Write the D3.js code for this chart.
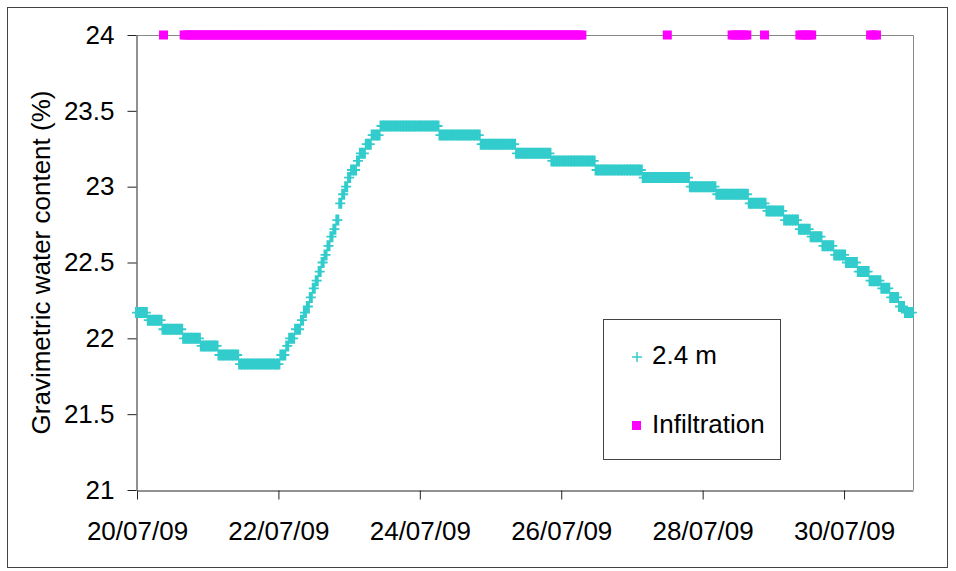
<!DOCTYPE html>
<html>
<head>
<meta charset="utf-8">
<script src="https://cdn.jsdelivr.net/npm/d3@7"></script>
<style>
  body { margin: 0; background: #fff; }
  #container { width: 956px; height: 571px; }
  text { font-family: 'Liberation Sans', Arial, sans-serif; fill: #000; }
</style>
</head>
<body>
<div id="container"></div>
<script>

var width = 956;
var height = 571;

// hourly readings, first one at 20/07/09 00:00
var startTime = new Date(2009, 6, 20, 0, 0);
var endTime = new Date(2009, 6, 20, 263, 24);

// gravimetric water content at 2.4 m, one row per day (24 hourly values)
var water24 = [
  22.17,22.17,22.17,22.17,22.12,22.12,22.12,22.12,22.12,22.06,22.06,22.06,22.06,22.06,22.06,22.06,22.00,22.00,22.00,22.00,22.00,22.00,21.95,21.95,
  21.95,21.95,21.95,21.95,21.89,21.89,21.89,21.89,21.89,21.89,21.89,21.83,21.83,21.83,21.83,21.83,21.83,21.83,21.83,21.83,21.83,21.83,21.83,21.83,
  21.83,21.89,21.89,21.95,22.00,22.00,22.06,22.06,22.12,22.17,22.21,22.27,22.33,22.38,22.44,22.50,22.55,22.61,22.67,22.72,22.78,22.89,22.95,23.00,
  23.06,23.11,23.11,23.17,23.22,23.22,23.28,23.28,23.34,23.34,23.34,23.40,23.40,23.40,23.40,23.40,23.40,23.40,23.40,23.40,23.40,23.40,23.40,23.40,
  23.40,23.40,23.40,23.40,23.40,23.40,23.40,23.34,23.34,23.34,23.34,23.34,23.34,23.34,23.34,23.34,23.34,23.34,23.34,23.34,23.34,23.28,23.28,23.28,
  23.28,23.28,23.28,23.28,23.28,23.28,23.28,23.28,23.28,23.22,23.22,23.22,23.22,23.22,23.22,23.22,23.22,23.22,23.22,23.22,23.22,23.17,23.17,23.17,
  23.17,23.17,23.17,23.17,23.17,23.17,23.17,23.17,23.17,23.17,23.17,23.17,23.11,23.11,23.11,23.11,23.11,23.11,23.11,23.11,23.11,23.11,23.11,23.11,
  23.11,23.11,23.11,23.11,23.06,23.06,23.06,23.06,23.06,23.06,23.06,23.06,23.06,23.06,23.06,23.06,23.06,23.06,23.06,23.06,23.00,23.00,23.00,23.00,
  23.00,23.00,23.00,23.00,23.00,22.95,22.95,22.95,22.95,22.95,22.95,22.95,22.95,22.95,22.95,22.95,22.89,22.89,22.89,22.89,22.89,22.89,22.84,22.84,
  22.84,22.84,22.84,22.84,22.78,22.78,22.78,22.78,22.78,22.72,22.72,22.72,22.72,22.67,22.67,22.67,22.67,22.61,22.61,22.61,22.61,22.55,22.55,22.55,
  22.55,22.50,22.50,22.50,22.50,22.44,22.44,22.44,22.44,22.38,22.38,22.38,22.38,22.33,22.33,22.33,22.27,22.27,22.27,22.21,22.21,22.17,22.17,22.17
];

// hours (from 20/07/09 00:00) with infiltration, plotted at the top of the axis
var infiltrationHours = [
  9,
  16,17,18,19,20,21,22,23,24,25,26,27,28,29,30,31,32,33,34,35,
  36,37,38,39,40,41,42,43,44,45,46,47,48,49,50,51,52,53,54,55,
  56,57,58,59,60,61,62,63,64,65,66,67,68,69,70,71,72,73,74,75,
  76,77,78,79,80,81,82,83,84,85,86,87,88,89,90,91,92,93,94,95,
  96,97,98,99,100,101,102,103,104,105,106,107,108,109,110,111,112,113,114,115,
  116,117,118,119,120,121,122,123,124,125,126,127,128,129,130,131,132,133,134,135,
  136,137,138,139,140,141,142,143,144,145,146,147,148,149,150,151,
  180,
  202,203,204,205,206,207,
  213,
  225,226,227,228,229,
  249,250,251
];
var infiltrationLevel = 24;

var yTicks = [21, 21.5, 22, 22.5, 23, 23.5, 24];
var xTicks = [new Date(2009,6,20), new Date(2009,6,22), new Date(2009,6,24), new Date(2009,6,26), new Date(2009,6,28), new Date(2009,6,30)];

var seriesNames = ['2.4 m', 'Infiltration'];
var cyan = '#33CCCC';
var magenta = '#FF00FF';

var plot = {left: 137, top: 35, right: 913, bottom: 490};

function hourToDate(h){
  return new Date(startTime.getTime() + h * 3600000);
}

var canvas = d3.select('#container')
  .append('svg')
  .attr('width', width)
  .attr('height', height);

// chart area border
canvas.append('rect')
  .attr('x', 7.5)
  .attr('y', 7.5)
  .attr('width', 940)
  .attr('height', 560)
  .style('fill', 'none')
  .style('stroke', '#444');

var x = d3.scaleTime()
  .domain([startTime, endTime])
  .range([plot.left, plot.right]);

var y = d3.scaleLinear()
  .domain([21, 24])
  .range([plot.bottom, plot.top]);

// plot area border (top / right)
canvas.append('path')
  .attr('d', 'M' + plot.left + ',' + (plot.top + 0.5) + 'H' + (plot.right + 0.5) + 'V' + plot.bottom)
  .style('fill', 'none')
  .style('stroke', '#888');

var yAxis = canvas.append('g')
  .attr('transform', 'translate(' + (plot.left - 0.5) + ',0)')
  .call(d3.axisLeft(y)
    .tickValues(yTicks)
    .tickFormat(function(d){ return String(d); })
    .tickSize(9)
    .tickSizeOuter(0)
    .tickPadding(13));

var xAxis = canvas.append('g')
  .attr('transform', 'translate(0,' + (plot.bottom + 0.5) + ')')
  .call(d3.axisBottom(x)
    .tickValues(xTicks)
    .tickFormat(d3.timeFormat('%d/%m/%y'))
    .tickSize(9)
    .tickSizeOuter(0)
    .tickPadding(22));

canvas.selectAll('.domain, .tick line')
  .style('stroke', '#222');

canvas.selectAll('.tick text')
  .style('font-size', '26px')
  .style('font-family', "'Liberation Sans', Arial, sans-serif")
  .style('fill', '#000');

canvas.append('text')
  .attr('transform', 'translate(50,' + ((plot.top + plot.bottom) / 2) + ') rotate(-90)')
  .attr('text-anchor', 'middle')
  .style('font-size', '26px')
  .text('Gravimetric water content (%)');

// 2.4 m series, plus markers (thick upright, thin cross bar)
var plusPath = 'M-2,-5.5h4v11h-4z M-5,-0.9h10v1.8h-10z';

canvas.selectAll('.water')
  .data(water24)
  .enter()
  .append('path')
  .attr('class', 'water')
  .attr('transform', function(d, i){ return 'translate(' + x(hourToDate(i)) + ',' + y(d) + ')'; })
  .attr('d', plusPath)
  .style('fill', cyan);

// infiltration series, square markers
canvas.selectAll('.infil')
  .data(infiltrationHours)
  .enter()
  .append('rect')
  .attr('class', 'infil')
  .attr('x', function(d){ return x(hourToDate(d)) - 4.5; })
  .attr('y', y(infiltrationLevel) - 4.5)
  .attr('width', 9)
  .attr('height', 9)
  .style('fill', magenta);

// legend
var legend = canvas.append('g');

legend.append('rect')
  .attr('x', 603.5)
  .attr('y', 319.5)
  .attr('width', 177)
  .attr('height', 140)
  .style('fill', '#fff')
  .style('stroke', '#444');

legend.append('path')
  .attr('transform', 'translate(637,357)')
  .attr('d', 'M-5,0H5M0,-5V5')
  .style('stroke', cyan)
  .style('stroke-width', 1.5);

legend.append('rect')
  .attr('x', 632)
  .attr('y', 421)
  .attr('width', 9)
  .attr('height', 9)
  .style('fill', magenta);

legend.selectAll('.legend-label')
  .data(seriesNames)
  .enter()
  .append('text')
  .attr('class', 'legend-label')
  .attr('x', 652)
  .attr('y', function(d, i){ return i == 0 ? 364 : 433; })
  .style('font-size', '26px')
  .text(function(d){ return d; });

</script>
</body>
</html>
